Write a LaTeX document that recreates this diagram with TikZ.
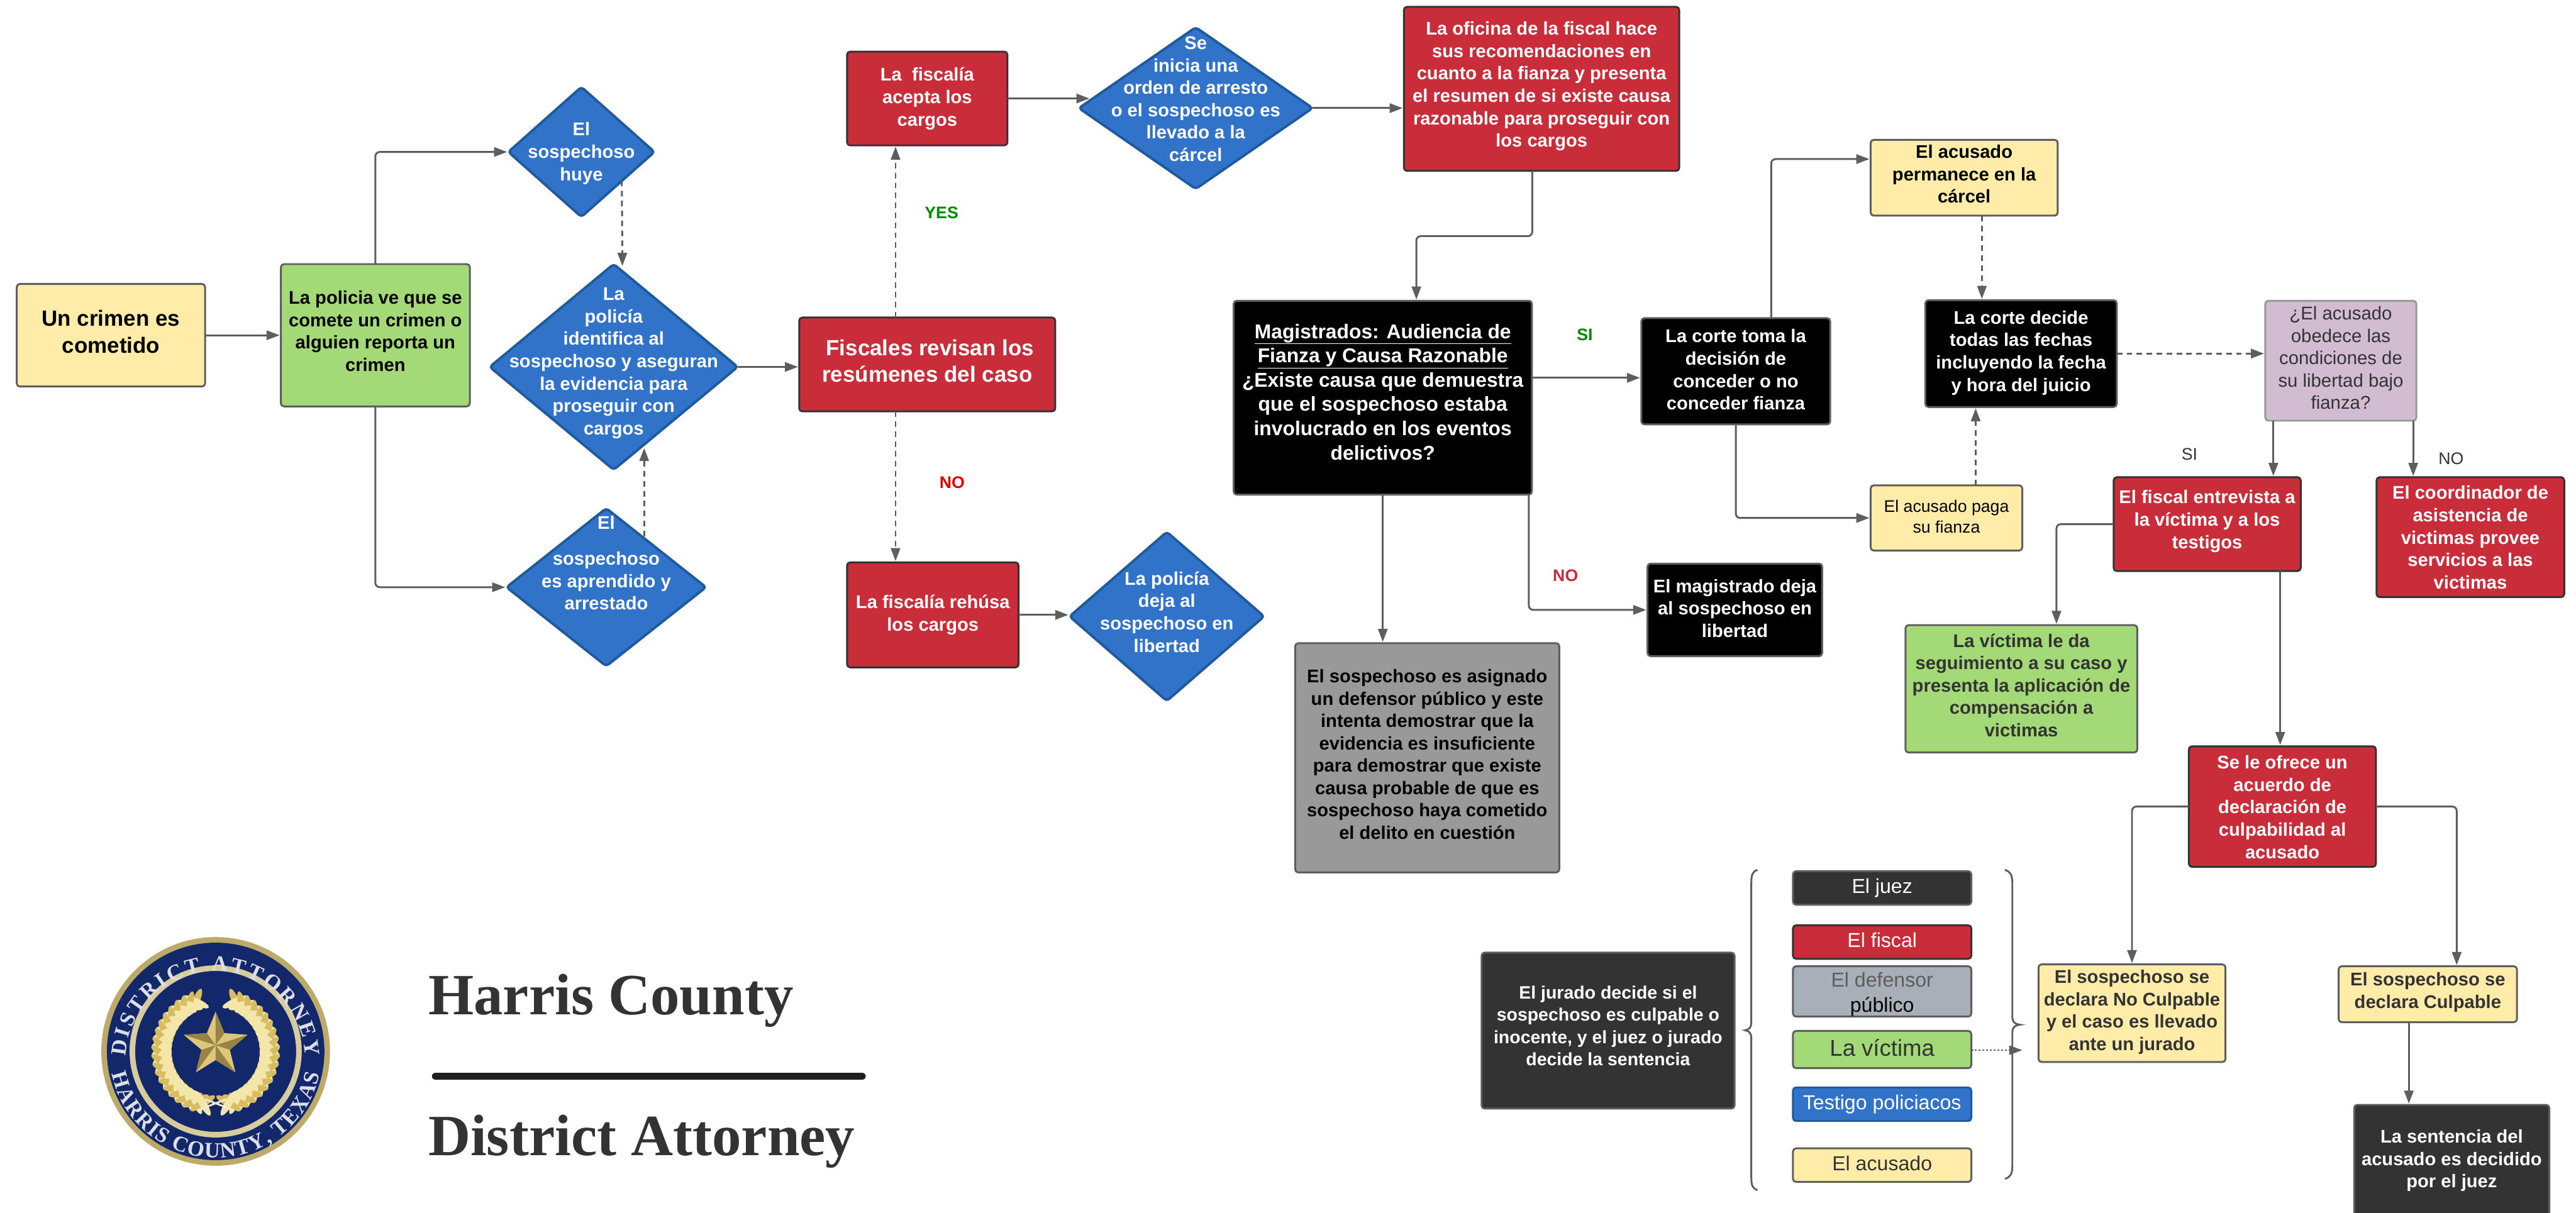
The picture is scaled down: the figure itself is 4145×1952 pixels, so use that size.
\documentclass[tikz,border=0pt]{standalone}
\usepackage{fontspec}
\setmainfont{Liberation Sans}
\newfontfamily\headserif{Liberation Serif}
\usetikzlibrary{arrows.meta,shapes.geometric,decorations.text}
\definecolor{cyell}{HTML}{FFECA9}
\definecolor{cgreen}{HTML}{A3D977}
\definecolor{cred}{HTML}{C92D39}
\definecolor{cblue}{HTML}{3073C9}
\definecolor{cblueb}{HTML}{1F5A9E}
\definecolor{cpurp}{HTML}{D1BCD2}
\definecolor{cgray}{HTML}{999999}
\definecolor{cdark}{HTML}{333333}
\definecolor{cdef}{HTML}{A9AFB8}
\definecolor{cline}{HTML}{5E5E5E}
\definecolor{cnavy}{HTML}{12286A}
\definecolor{cgold}{HTML}{D8BC62}
\definecolor{cgoldl}{HTML}{F3E6A8}
\newcommand\ftb{\bfseries\fontsize{29.5}{36}\selectfont}
\newcommand\ftbig{\bfseries\fontsize{35.4}{43}\selectfont}
\newcommand\ftmag{\bfseries\fontsize{32.2}{39}\selectfont}
\newcommand\ftreg{\fontsize{29.7}{36}\selectfont}
\newcommand\ftpay{\fontsize{27}{33}\selectfont}
\newcommand\ftleg{\fontsize{32.5}{40}\selectfont}
\newcommand\ftjur{\bfseries\fontsize{28.8}{36}\selectfont}
\newcommand\ftlab{\bfseries\fontsize{27}{32}\selectfont}
\newcommand\ftlabr{\fontsize{27}{32}\selectfont}
\newcommand\fthead{\headserif\bfseries\fontsize{94}{110}\selectfont}
\newsavebox\lblbox
\newlength\lblraise
\newcommand\ctext[2]{%
  \sbox\lblbox{\parbox[b]{1400pt}{\centering\rule{0pt}{.7\baselineskip}#2}}%
  \setlength\lblraise{\dimexpr #1pt-(\ht\lblbox-.7\baselineskip)/2-.32em\relax}%
  \makebox[0pt]{\raisebox{\lblraise}[0pt][0pt]{\usebox\lblbox}}}
\newcommand\bx[8]{%
  \pgfmathsetmacro\bxcx{(#3+#5)/2}%
  \pgfmathsetmacro\bxcy{(#4+#6)/2}%
  \pgfmathsetmacro\bxww{#5-#3}%
  \pgfmathsetmacro\bxhh{#6-#4}%
  \pgfmathsetmacro\bxss{(#4+#6)/2-#7}%
  \node[#2,minimum width=\bxww pt,minimum height=\bxhh pt] (#1) at (\bxcx,\bxcy) {\ctext{\bxss}{#8}};}
\tikzset{
  base/.style={inner sep=0pt,outer sep=0pt,rounded corners=5pt,line width=3pt,font=\ftb},
  ybox/.style={base,rectangle,draw=cline,fill=cyell,text=black},
  gbox/.style={base,rectangle,draw=cline,fill=cgreen,text=black},
  rbox/.style={base,rectangle,draw=cdark,fill=cred,text=white},
  kbox/.style={base,rectangle,draw=cline,fill=black,text=white},
  dbox/.style={base,rectangle,draw=cline,fill=cdark,text=white},
  sbox/.style={base,rectangle,draw=cline,fill=cgray,text=black},
  pbox/.style={base,rectangle,draw=cgray,fill=cpurp,text=cdark,font=\ftreg},
  bdia/.style={base,diamond,draw=cblueb,fill=cblue,text=white,line width=4pt},
  conn/.style={draw=cline,line width=3pt,rounded corners=7pt,shorten >=2pt,-{Triangle[length=21pt,width=15pt]}},
  dconn/.style={conn,dash pattern=on 9pt off 7pt},
  brc/.style={draw=cline,line width=3pt},
  lab/.style={inner sep=0pt,font=\ftlab},
  headtxt/.style={inner sep=0pt,anchor=base west,font=\fthead,text=cdark},
  sealtxt/.style={decorate,decoration={text along path,text align={fit to path}}}
}
\begin{document}
\begin{tikzpicture}[x=1pt,y=-1pt]
\fill[white] (0,0) rectangle (4145,1952);
\useasboundingbox (0,0) rectangle (4145,1952);
% left column
\bx{crimen}{ybox,font=\ftbig}{27}{457}{330}{622}{535}{Un crimen es\\cometido}
\bx{policiave}{gbox}{452}{425}{756}{654}{534}{La policia ve que se\\comete un crimen o\\alguien reporta un\\crimen}
\bx{huye}{bdia}{818}{140}{1053}{349}{245}{El\\sospechoso\\huye}
\bx{identifica}{bdia}{788}{425}{1187}{756}{582}{La\\policía\\identifica al\\sospechoso y aseguran\\la evidencia para\\proseguir con\\cargos}
\bx{aprendido}{bdia}{815}{818}{1136}{1072}{907}{El\\[22pt]sospechoso\\es aprendido y\\arrestado}
% fiscales
\bx{fiscales}{rbox,font=\ftbig}{1286}{511}{1698}{662}{582}{\hspace*{9pt}Fiscales revisan los\\resúmenes del caso}
\bx{acepta}{rbox}{1363}{83}{1621}{234}{157}{La~ fiscalía\\acepta los\\cargos}
\bx{rehusa}{rbox}{1363}{905}{1639}{1074}{988}{La fiscalía rehúsa\\los cargos}
\bx{orden}{bdia}{1736}{44}{2112}{304}{160}{Se\\inicia una\\orden de arresto\\o el sospechoso es\\llevado a la\\cárcel}
\bx{deja}{bdia}{1721}{856}{2034}{1128}{986}{La policía\\deja al\\sospechoso en\\libertad}
\bx{oficina}{rbox}{2259}{11}{2702}{275}{137}{La oficina de la fiscal hace\\sus recomendaciones en\\cuanto a la fianza y presenta\\el resumen de si existe causa\\razonable para proseguir con\\los cargos}
% magistrados
\bx{magis}{kbox,font=\ftmag}{1985}{484}{2465}{796}{632}{\underline{Magistrados: Audiencia de}\\\underline{Fianza y Causa Razonable}\\¿Existe causa que demuestra\\que el sospechoso estaba\\involucrado en los eventos\\delictivos?}
\bx{defensa}{sbox}{2084}{1035}{2509}{1404}{1215}{El sospechoso es asignado\\un defensor público y este\\intenta demostrar que la\\evidencia es insuficiente\\para demostrar que existe\\causa probable de que es\\sospechoso haya cometido\\el delito en cuestión}
\bx{corte}{kbox}{2641}{512}{2945}{683}{596}{La corte toma la\\decisión de\\conceder o no\\conceder fianza}
\bx{magdeja}{kbox}{2651}{907}{2932}{1056}{980}{El magistrado deja\\al sospechoso en\\libertad}
\bx{permanece}{ybox}{3010}{225}{3311}{347}{281}{El acusado\\permanece en la\\cárcel}
\bx{paga}{ybox,font=\ftpay}{3010}{781}{3254}{886}{832}{El acusado paga\\su fianza}
\bx{decide}{kbox}{3098}{483}{3406}{655}{566}{La corte decide\\todas las fechas\\incluyendo la fecha\\y hora del juicio}
\bx{obedece}{pbox}{3645}{484}{3888}{677}{577}{¿El acusado\\obedece las\\condiciones de\\su libertad bajo\\fianza?}
\bx{entrevista}{rbox}{3401}{768}{3702}{919}{837}{El fiscal entrevista a\\la víctima y a los\\testigos}
\bx{coord}{rbox}{3824}{768}{4126}{961}{866}{El coordinador de\\asistencia de\\victimas provee\\servicios a las\\victimas}
\bx{seguimiento}{gbox,text=cdark}{3066}{1006}{3439}{1211}{1104}{La víctima le da\\seguimiento a su caso y\\presenta la aplicación de\\compensación a\\victimas}
\bx{ofrece}{rbox}{3522}{1201}{3823}{1395}{1300}{Se le ofrece un\\acuerdo de\\declaración de\\culpabilidad al\\acusado}
\bx{nocul}{ybox,text=cdark}{3280}{1552}{3581}{1709}{1627}{El sospechoso se\\declara No Culpable\\y el caso es llevado\\ante un jurado}
\bx{cul}{ybox,text=cdark}{3763}{1555}{4050}{1645}{1595}{El sospechoso se\\declara Culpable}
\bx{sentencia}{dbox}{3788}{1778}{4102}{1960}{1866}{La sentencia del\\acusado es decidido\\por el juez}
\bx{jurado}{dbox,font=\ftjur}{2384}{1533}{2791}{1784}{1652}{El jurado decide si el\\sospechoso es culpable o\\inocente, y el juez o jurado\\decide la sentencia}
% legend
\bx{ljuez}{dbox,font=\ftleg}{2885}{1402}{3172}{1456}{1427}{El juez}
\bx{lfiscal}{rbox,font=\ftleg}{2885}{1489}{3172}{1543}{1514}{El fiscal}
\bx{ldef}{sbox,fill=cdef,font=\ftleg}{2885}{1555}{3172}{1636}{1598}{{\color{cline}El defensor}\\público}
\bx{lvict}{gbox,font=\fontsize{37}{44}\selectfont,text=cdark}{2885}{1659}{3172}{1719}{1688}{La víctima}
\bx{ltest}{base,rectangle,draw=cblueb,fill=cblue,text=white,font=\ftleg}{2885}{1750}{3172}{1804}{1775}{Testigo policiacos}
\bx{lacus}{ybox,text=cdark,font=\ftleg}{2885}{1848}{3172}{1902}{1873}{El acusado}
% braces
\draw[brc] (2828,1400) .. controls (2820,1402) and (2818,1408) .. (2818,1420) -- (2818,1645) .. controls (2818,1654) and (2814,1657) .. (2808,1658) .. controls (2814,1659) and (2818,1662) .. (2818,1671) -- (2818,1895) .. controls (2818,1908) and (2820,1913) .. (2828,1915);
\draw[brc] (3226,1400) .. controls (3234,1402) and (3238,1408) .. (3238,1420) -- (3238,1636) .. controls (3238,1645) and (3242,1648) .. (3250,1649) .. controls (3242,1650) and (3238,1653) .. (3238,1662) -- (3238,1877) .. controls (3238,1890) and (3234,1895) .. (3226,1897);
\coordinate (bracetip) at (3254,1690);
% connectors
\draw[conn] (crimen) -- (policiave);
\draw[conn] (policiave.north) |- (huye.west);
\draw[conn] (policiave.south) |- (aprendido.west);
\draw[dconn] ([xshift=65pt,yshift=58pt]huye.south) -- ([xshift=14pt,yshift=-5pt]identifica.north);
\draw[dconn] ([xshift=61pt,yshift=-45pt]aprendido.north) -- ([xshift=49pt,yshift=37pt]identifica.south);
\draw[conn] (identifica.east) -- (identifica.east -| fiscales.west);
\draw[dconn] ([xshift=-51pt]fiscales.north) -- ([xshift=-51pt]acepta.south);
\draw[dconn] ([xshift=-51pt]fiscales.south) -- ([xshift=-60pt]rehusa.north);
\draw[conn] (acepta.east) -- ([xshift=19pt,yshift=15.5pt]orden.west);
\draw[conn] (orden.east) -- (orden.east -| oficina.west);
\draw[conn] ([xshift=-15pt]oficina.south) -- ++(0,105) -| ([xshift=54pt]magis.north);
\draw[conn] (rehusa.east) -- (rehusa.east -| deja.west);
\draw[conn] (magis.south) -- (magis.south |- defensa.north);
\draw[conn] ([yshift=32pt]magis.east) -- ([yshift=-10.5pt]corte.west);
\draw[conn] ([xshift=235pt]magis.south) |- (magdeja.west);
\draw[conn] ([xshift=57pt]corte.north) |- ([yshift=30pt]permanece.west);
\draw[conn] (corte.south) |- (paga.west);
\draw[dconn] ([xshift=28.5pt]permanece.south) -- ([xshift=-63pt]decide.north);
\draw[dconn] ([xshift=47pt]paga.north) -- ([xshift=-73pt]decide.south);
\draw[dconn] (decide.east) -- (decide.east -| obedece.west);
\draw[conn] ([xshift=-108.5pt]obedece.south) -- ([xshift=106.5pt]entrevista.north);
\draw[conn] ([xshift=116.5pt]obedece.south) -- ([xshift=-92pt]coord.north);
\draw[conn] (entrevista.west) -| ([xshift=56.5pt]seguimiento.north);
\draw[conn] ([xshift=117.5pt]entrevista.south) -- ([xshift=-3.5pt]ofrece.north);
\draw[conn] (ofrece.west) -| (nocul.north);
\draw[conn] (ofrece.east) -| ([xshift=46.5pt]cul.north);
\draw[conn] ([xshift=-30.5pt]cul.south) -- ([xshift=-69pt]sentencia.north);
\draw[conn,dash pattern=on 3pt off 3pt,line width=2.5pt,shorten >=0pt] (lvict.east |- bracetip) -- (bracetip);
% branch labels
\node[lab,text=green!55!black] (lyes) at (1515,342) {YES};
\node[lab,text=red!90!black] (lno) at (1532,776) {NO};
\node[lab,text=green!55!black] (lsi) at (2550,539) {SI};
\node[lab,text=cred] (lno2) at (2519,926) {NO};
\node[lab,font=\ftlabr,text=cdark] (lsi2) at (3523,731) {SI};
\node[lab,font=\ftlabr,text=cdark] (lno3) at (3944,738) {NO};
% title
\node[headtxt] (thc) at (689,1633) {Harris County};
\node[headtxt] (tda) at (689,1859) {District Attorney};
\draw[line width=12pt,line cap=round,draw=black!40!cdark] (701,1732) -- (1387,1732);
% seal
\begin{scope}[shift={(347,1692)}]
  \fill[cgold!70!gray] (0,0) circle[radius=184pt];
  \fill[cnavy] (0,0) circle[radius=175pt];
  \draw[cgoldl!75!gray,line width=9pt] (0,0) circle[radius=134pt];
  \path[sealtxt,decoration={text={|\headserif\bfseries\fontsize{35}{38}\selectfont\color{white!85!cnavy}|DISTRICT  ATTORNEY}}]
    (-145,8) arc[start angle=177,end angle=3,radius=145pt];
  \path[sealtxt,decoration={text={|\headserif\bfseries\fontsize{35}{38}\selectfont\color{white!85!cnavy}|HARRIS COUNTY, TEXAS}}]
    (-167,36) arc[start angle=192,end angle=348,radius=171pt];
  \foreach \a in {112,120,...,256}{
    \fill[cgold,shift={({86*cos(\a)},{-86*sin(\a)})},rotate=\a-90+45] (0,0) ellipse[x radius=23pt,y radius=6pt];
    \fill[cgoldl,shift={({86*cos(\a)},{-86*sin(\a)})},rotate=\a-90-45] (0,0) ellipse[x radius=23pt,y radius=6pt];
    \fill[cgold,shift={({-86*cos(\a)},{-86*sin(\a)})},rotate=90-\a-45] (0,0) ellipse[x radius=23pt,y radius=6pt];
    \fill[cgoldl,shift={({-86*cos(\a)},{-86*sin(\a)})},rotate=90-\a+45] (0,0) ellipse[x radius=23pt,y radius=6pt];
  }
  \draw[white!70!cgold,line width=3pt] (-30,95) -- (17,77) (30,95) -- (-17,77);
  \begin{scope}[shift={(0,-10)}]
    \fill[cgold!85!white]
      (90:54pt) -- (126:24pt) -- (162:54pt) -- (198:24pt) -- (234:54pt) -- (270:24pt) -- (306:54pt) -- (342:24pt) -- (18:54pt) -- (54:24pt) -- cycle;
    \fill[cgold!70!black] (0,0) -- (90:54pt) -- (54:24pt) -- cycle;
    \fill[cgold!70!black] (0,0) -- (162:54pt) -- (126:24pt) -- cycle;
    \fill[cgold!70!black] (0,0) -- (234:54pt) -- (198:24pt) -- cycle;
    \fill[cgold!70!black] (0,0) -- (306:54pt) -- (270:24pt) -- cycle;
    \fill[cgold!70!black] (0,0) -- (18:54pt) -- (342:24pt) -- cycle;
  \end{scope}
\end{scope}
\end{tikzpicture}
\end{document}
